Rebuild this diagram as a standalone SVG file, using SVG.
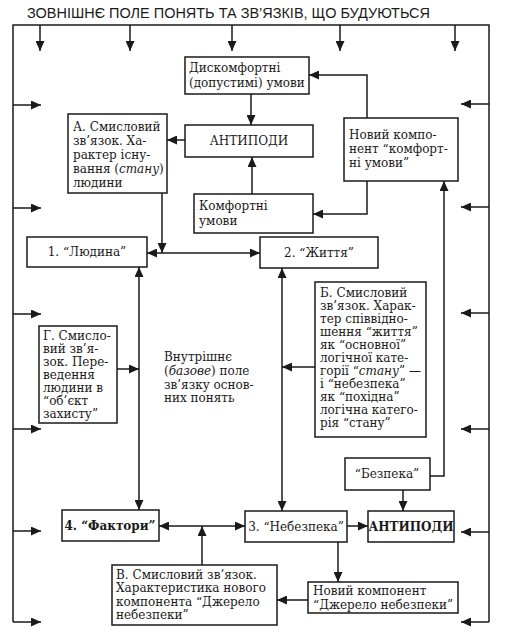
<svg xmlns="http://www.w3.org/2000/svg" width="506" height="634" viewBox="0 0 506 634">
<style>
  .box { fill: #ffffff; stroke: #1a1a1a; stroke-width: 1.5; }
  .t { font-family: "DejaVu Serif", "Liberation Serif", serif; font-size: 12px; fill: #1a1a1a; }
  .c { text-anchor: middle; }
  .b { font-weight: bold; }
  .title { font-family: "Liberation Sans", "DejaVu Sans", sans-serif; font-size: 14px; fill: #1a1a1a; }
  .ln { fill: none; stroke: #1a1a1a; stroke-width: 1.5; }
  .ar { marker-end: url(#ah); }
  .da { marker-end: url(#ah); marker-start: url(#ahs); }
</style>
<defs>
  <marker id="ah" markerUnits="userSpaceOnUse" markerWidth="11" markerHeight="9" refX="10" refY="4.5" orient="auto">
    <path d="M0,0 L10,4.5 L0,9 z" fill="#1a1a1a"/>
  </marker>
  <marker id="ahs" markerUnits="userSpaceOnUse" markerWidth="11" markerHeight="9" refX="10" refY="4.5" orient="auto-start-reverse">
    <path d="M0,0 L10,4.5 L0,9 z" fill="#1a1a1a"/>
  </marker>
</defs>
<rect width="506" height="634" fill="#ffffff"/>
<text class="title" x="27" y="18" textLength="403" lengthAdjust="spacingAndGlyphs">ЗОВНІШНЄ ПОЛЕ ПОНЯТЬ ТА ЗВ’ЯЗКІВ, ЩО БУДУЮТЬСЯ</text>

<g id="connectors">
  <path class="ln" d="M13,622 V25 H489 V622"/>
  <path class="ln ar" d="M40,25 V51"/>
  <path class="ln ar" d="M130,25 V51"/>
  <path class="ln ar" d="M232,25 V51"/>
  <path class="ln ar" d="M340,25 V51"/>
  <path class="ln ar" d="M455,25 V51"/>
  <path class="ln ar" d="M13,105 H41"/>
  <path class="ln ar" d="M13,208 H41"/>
  <path class="ln ar" d="M13,314 H41"/>
  <path class="ln ar" d="M13,429 H41"/>
  <path class="ln ar" d="M13,531 H41"/>
  <path class="ln ar" d="M13,622 H41"/>
  <path class="ln ar" d="M489,104 H461"/>
  <path class="ln ar" d="M489,207 H461"/>
  <path class="ln ar" d="M489,313 H461"/>
  <path class="ln ar" d="M489,429 H461"/>
  <path class="ln ar" d="M489,532 H461"/>
  <path class="ln ar" d="M489,622 H461"/>
  <path class="ln ar" d="M251,94 V125"/>
  <path class="ln ar" d="M252,194 V157"/>
  <path class="ln ar" d="M185,140 H167"/>
  <path class="ln ar" d="M367,118 V75 H309"/>
  <path class="ln ar" d="M367,181 V214 H313"/>
  <path class="ln ar" d="M430,476 H444 V181"/>
  <path class="ln ar" d="M162,193 V253"/>
  <path class="ln da" d="M147,253 H260"/>
  <path class="ln da" d="M139,267 V510"/>
  <path class="ln ar" d="M117,369 H139"/>
  <path class="ln da" d="M282,268 V511"/>
  <path class="ln ar" d="M315,367 H282"/>
  <path class="ln da" d="M159,526 H245"/>
  <path class="ln ar" d="M202,565 V526"/>
  <path class="ln ar" d="M347,526 H368"/>
  <path class="ln ar" d="M403,490 V511"/>
  <path class="ln ar" d="M338,542 V582"/>
  <path class="ln ar" d="M308,600 H277"/>
</g>

<g id="dyskomfortni">
  <rect class="box" x="185" y="57" width="124" height="37"/>
  <text class="t" x="189" y="72">Дискомфортні</text>
  <text class="t" x="189" y="87">(допустимі) умови</text>
</g>
<g id="antypody1">
  <rect class="box" x="185" y="125" width="128" height="32"/>
  <text class="t c" x="249" y="145">АНТИПОДИ</text>
</g>
<g id="komfortni">
  <rect class="box" x="194" y="194" width="119" height="39"/>
  <text class="t" x="199" y="210">Комфортні</text>
  <text class="t" x="199" y="225">умови</text>
</g>
<g id="node-a">
  <rect class="box" x="68" y="114" width="99" height="79"/>
  <text class="t" x="73" y="131">А. Смисловий</text>
  <text class="t" x="73" y="145">зв’язок. Ха-</text>
  <text class="t" x="73" y="159">рактер існу-</text>
  <text class="t" x="73" y="173">вання (<tspan font-style="italic">стану</tspan>)</text>
  <text class="t" x="73" y="187">людини</text>
</g>
<g id="novyi-komfort">
  <rect class="box" x="344" y="118" width="114" height="63"/>
  <text class="t" x="349" y="139">Новий компо-</text>
  <text class="t" x="349" y="153">нент “комфорт-</text>
  <text class="t" x="349" y="167">ні умови”</text>
</g>
<g id="lyudyna">
  <rect class="box" x="27" y="237" width="120" height="30"/>
  <text class="t c" x="87" y="256">1. “Людина”</text>
</g>
<g id="zhyttia">
  <rect class="box" x="260" y="237" width="118" height="31"/>
  <text class="t c" x="319" y="257">2. “Життя”</text>
</g>
<g id="node-g">
  <rect class="box" x="39" y="326" width="78" height="97"/>
  <text class="t" x="43" y="340">Г. Смисло-</text>
  <text class="t" x="43" y="353">вий зв’я-</text>
  <text class="t" x="43" y="366">зок. Пере-</text>
  <text class="t" x="43" y="379">ведення</text>
  <text class="t" x="43" y="392">людини в</text>
  <text class="t" x="43" y="405">“об’єкт</text>
  <text class="t" x="43" y="418">захисту”</text>
</g>
<g id="inner-field">
  <text class="t" x="164" y="361">Внутрішнє</text>
  <text class="t" x="164" y="375">(<tspan font-style="italic">базове</tspan>) поле</text>
  <text class="t" x="164" y="389">зв’язку основ-</text>
  <text class="t" x="164" y="402">них понять</text>
</g>
<g id="node-b">
  <rect class="box" x="315" y="282" width="111" height="155"/>
  <text class="t" x="320" y="297">Б. Смисловий</text>
  <text class="t" x="320" y="310">зв’язок. Харак-</text>
  <text class="t" x="320" y="323">тер співвідно-</text>
  <text class="t" x="320" y="336">шення “життя”</text>
  <text class="t" x="320" y="349">як “основної”</text>
  <text class="t" x="320" y="362">логічної кате-</text>
  <text class="t" x="320" y="375">горії “<tspan font-style="italic">стану</tspan>” —</text>
  <text class="t" x="320" y="388">і “небезпека”</text>
  <text class="t" x="320" y="401">як “похідна”</text>
  <text class="t" x="320" y="414">логічна катего-</text>
  <text class="t" x="320" y="427">рія “стану”</text>
</g>
<g id="bezpeka">
  <rect class="box" x="345" y="458" width="85" height="32"/>
  <text class="t c" x="387" y="478">“Безпека”</text>
</g>
<g id="faktory">
  <rect class="box" x="62" y="510" width="97" height="31"/>
  <text class="t c b" x="110" y="530">4. “Фактори”</text>
</g>
<g id="nebezpeka">
  <rect class="box" x="245" y="511" width="102" height="31"/>
  <text class="t c" x="296" y="531">3. “Небезпека”</text>
</g>
<g id="antypody2">
  <rect class="box" x="368" y="511" width="86" height="31"/>
  <text class="t c b" x="411" y="531">АНТИПОДИ</text>
</g>
<g id="node-v">
  <rect class="box" x="112" y="565" width="165" height="60"/>
  <text class="t" x="116" y="579">В. Смисловий зв’язок.</text>
  <text class="t" x="116" y="592">Характеристика нового</text>
  <text class="t" x="116" y="606">компонента “Джерело</text>
  <text class="t" x="116" y="619">небезпеки”</text>
</g>
<g id="novyi-dzherelo">
  <rect class="box" x="308" y="582" width="150" height="31"/>
  <text class="t" x="313" y="595">Новий компонент</text>
  <text class="t" x="313" y="609">“Джерело небезпеки”</text>
</g>
</svg>
